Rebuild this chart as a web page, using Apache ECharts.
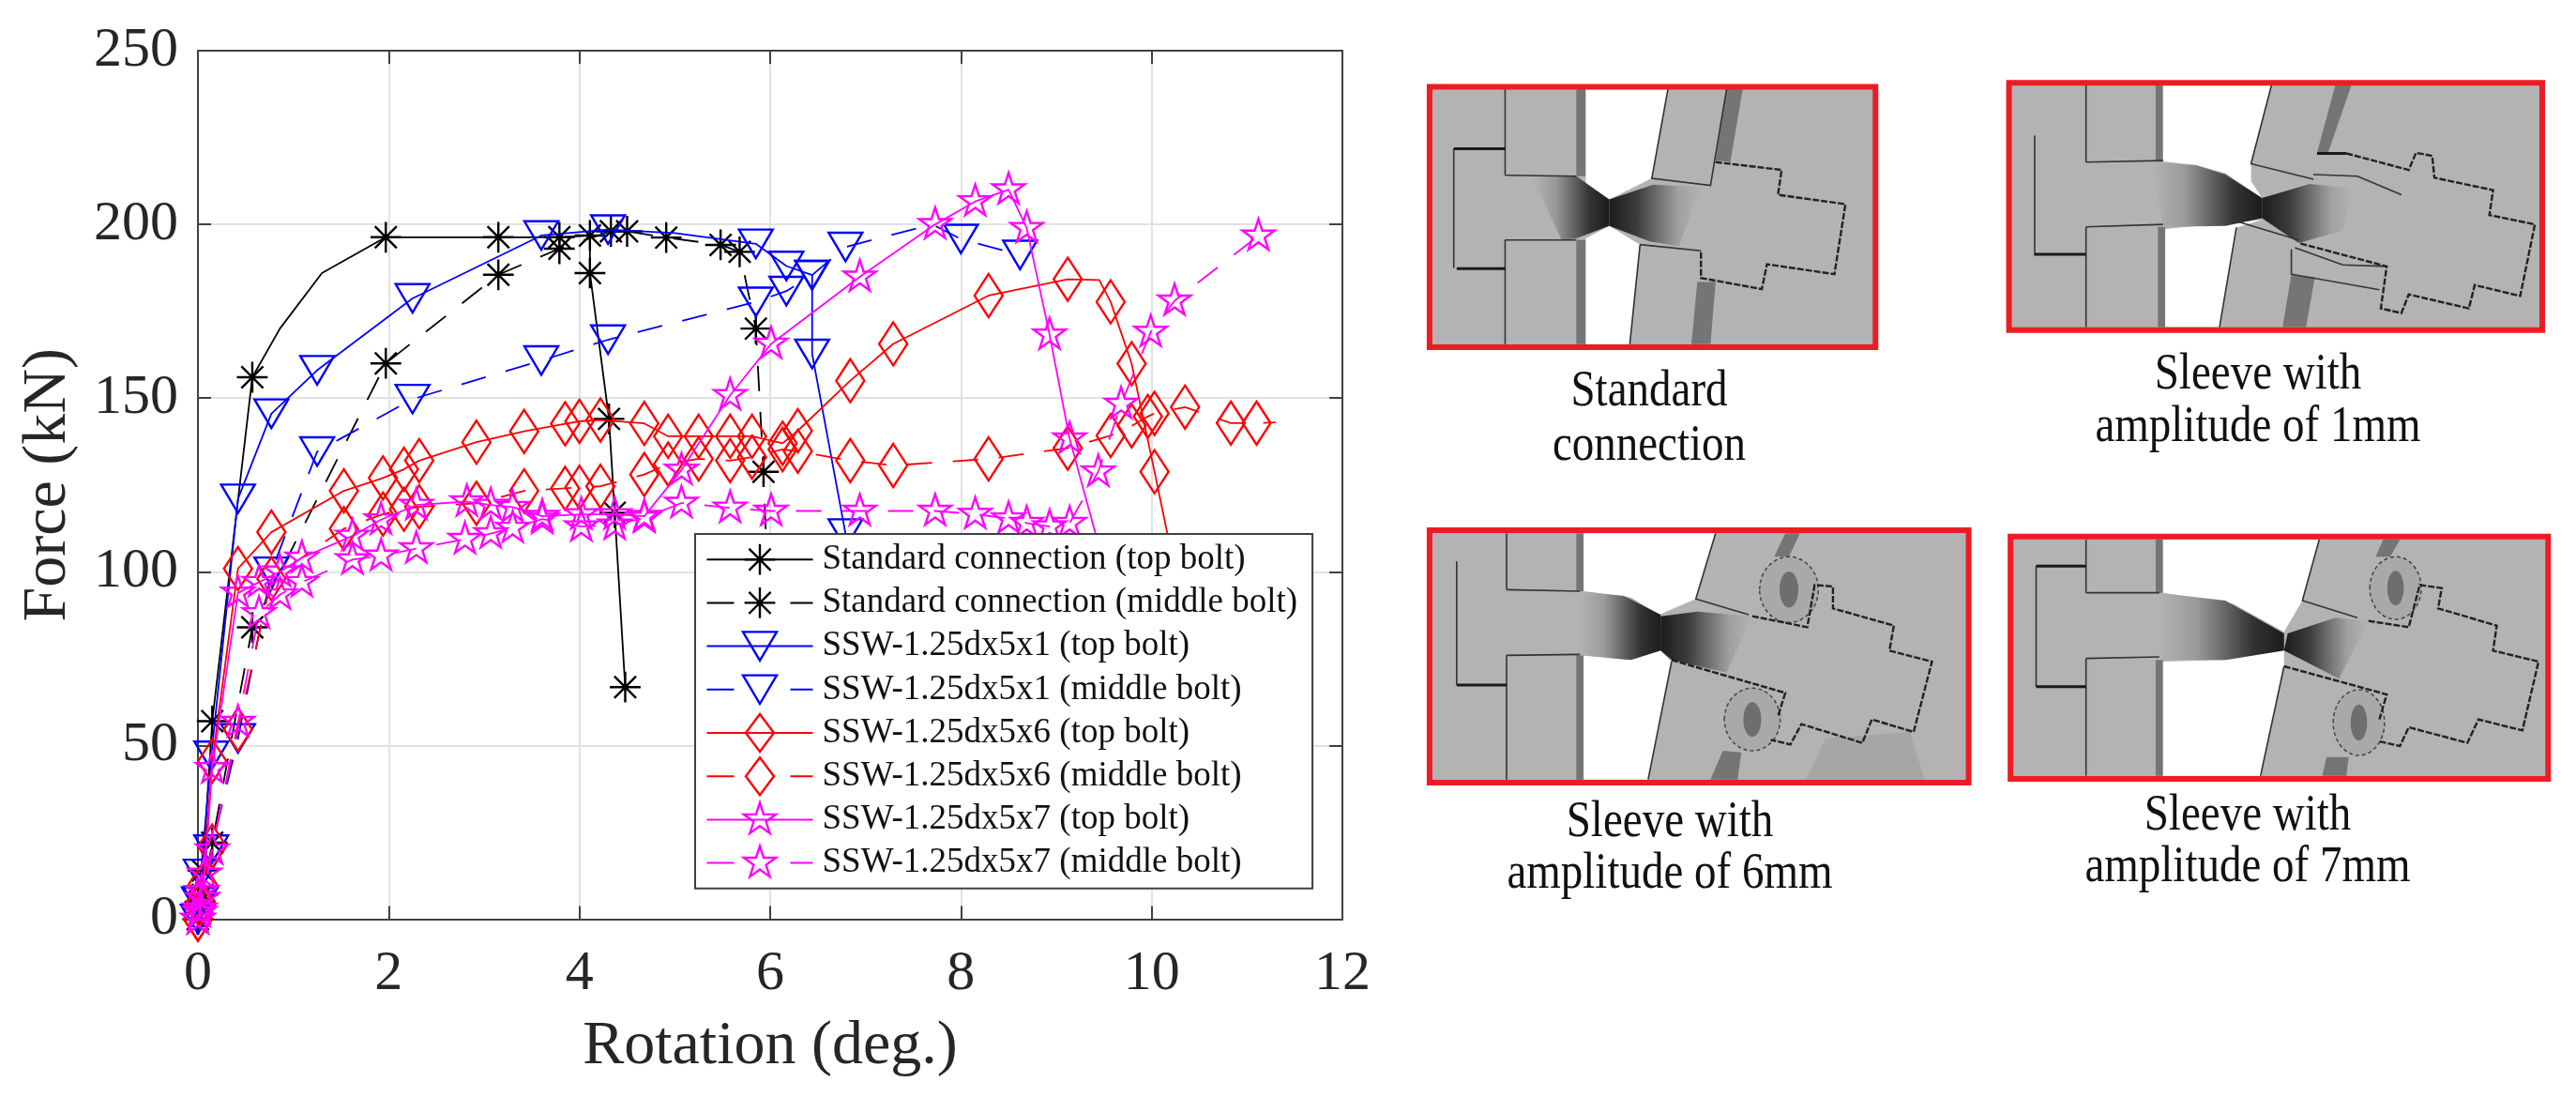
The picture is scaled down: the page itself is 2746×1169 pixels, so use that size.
<!DOCTYPE html>
<html><head><meta charset="utf-8">
<style>html,body{margin:0;padding:0;background:#fff}#c{width:2746px;height:1169px}</style>
<script src="https://cdn.jsdelivr.net/npm/echarts@6/dist/echarts.min.js"></script>
</head><body><div id="c"></div>
<script>
// value readings: [rotation, force] ; a third element 0 = vertex without a marker
const stdTop = [[0,0],[0.02,5],[0.05,14],[0.15,57],[0.57,156],[0.86,170,0],[1.3,186,0],[1.97,196.3],[3.15,196.3],[3.79,196.3],[4.11,196.8],[4.11,186],[4.31,144],[4.37,117],[4.48,66.8]];
const stdMid = [[0,0],[0.02,3],[0.05,7],[0.15,22],[0.57,84],[1.97,160],[3.15,185.5],[3.79,193],[4.33,198],[4.5,198],[4.91,196.2],[5.48,194.1],[5.68,192.1],[5.85,170],[5.93,128.8],[5.97,100,0]];
const ssw1Top = [[0,0],[0.01,5],[0.03,13],[0.14,47],[0.42,121],[0.77,145.5],[1.25,158],[2.25,178.7],[3.6,196.8],[4.3,198.5],[5.0,197.5,0],[5.85,194.4],[6.17,188],[6.44,185.4],[6.44,162.7],[6.79,111]];
const ssw1Mid = [[0,0],[0.03,5],[0.14,20],[0.42,52],[0.77,100],[1.25,134.6],[2.25,149.7],[3.6,160.8],[4.3,166.8],[5.85,177.7],[6.17,180.8],[6.44,185.4],[6.79,193.5],[7.7,200,0],[8,195.8],[8.62,191.2]];
const ssw6Top = [[0,0],[0.02,4],[0.05,10],[0.15,45.5],[0.42,100.9],[0.77,111.4],[1.53,123.3],[1.94,127],[2.16,129.5],[2.32,132],[2.92,137.3],[3.42,140.4],[3.85,142.6],[4,143.3],[4.22,143.7],[4.68,142.7],[4.93,139],[5.25,139],[5.58,139],[5.81,139],[6.13,137],[6.29,140.6],[6.84,155],[7.29,165.6],[8.29,179.5],[9.12,184.2],[9.45,184,0],[9.57,177.7],[9.79,159.9],[10.03,128.8],[10.3,93]];
const ssw6Mid = [[0,0],[0.03,5],[0.15,21],[0.42,54.6],[0.77,98],[1.53,112.4],[1.94,116.6],[2.16,118],[2.32,118.7],[2.92,119.7],[3.42,123.3],[3.85,124],[4,124.3],[4.22,124.6],[4.68,128],[4.93,131],[5.25,132.5],[5.58,132],[5.81,133],[6.13,135.2],[6.29,134.7],[6.84,132],[7.29,130.6],[8.29,132.5],[9.12,135.6],[9.57,139.2],[9.79,142],[9.96,144.7],[10.03,145.6],[10.35,147.4],[10.83,142.8],[11.1,142.8],[11.3,143,0]];
const ssw7Top = [[0,0],[0.02,3],[0.04,8],[0.07,13],[0.15,43.4],[0.42,93.9],[0.64,97],[0.86,100],[1.09,104],[1.62,110.3],[1.92,115],[2.29,119.2],[2.82,120.2],[3.07,119.2],[3.3,118.6],[3.61,116],[4.02,116.5],[4.37,116.5],[4.68,116],[5.07,129.3],[5.58,150.8],[6.01,165.6],[6.94,184.9],[7.73,200],[8.15,206.6],[8.5,210],[8.69,198.9],[8.93,168.2],[9.14,138.3],[9.6,92]];
const ssw7Mid = [[0,0],[0.02,2],[0.05,6],[0.15,20],[0.42,56.7],[0.64,88],[0.86,93.4],[1.09,97],[1.62,103.5],[1.92,104.6],[2.29,106.7],[2.8,109.4],[3.07,111],[3.3,112.6],[3.61,115.2],[4.02,113],[4.37,113.5],[4.68,115.5],[5.07,119.8],[5.58,118.4],[6.01,117.5],[6.94,117.5],[7.73,117.5],[8.15,116.6],[8.5,115.3],[8.69,114],[8.93,113],[9.14,114],[9.44,128.8],[9.68,148.3],[9.99,169],[10.24,178],[11.12,196.7]];
const seriesNames = ['Standard connection (top bolt)','Standard connection (middle bolt)','SSW-1.25dx5x1 (top bolt)','SSW-1.25dx5x1 (middle bolt)','SSW-1.25dx5x6 (top bolt)','SSW-1.25dx5x6 (middle bolt)','SSW-1.25dx5x7 (top bolt)','SSW-1.25dx5x7 (middle bolt)'];
const seriesValues = [stdTop,stdMid,ssw1Top,ssw1Mid,ssw6Top,ssw6Mid,ssw7Top,ssw7Mid];
const yTicks = [0,50,100,150,200,250];
const xTicks = [0,2,4,6,8,10,12];
const xAxisTitle = 'Rotation (deg.)';
const yAxisTitle = 'Force (kN)';
const captions = [['Standard','connection'],['Sleeve with','amplitude of 1mm'],['Sleeve with','amplitude of 6mm'],['Sleeve with','amplitude of 7mm']];

const BOX = 'M0 0L0 0M100 100L100 100';
const ASTER = 'path://'+BOX+'M50 9L50 91M9 50L91 50M21 21L79 79M21 79L79 21';
const TRI = 'path://'+BOX+'M5 12L95 12L50 88Z';
const DIA = 'path://'+BOX+'M50 0L87.5 50L50 100L12.5 50Z';
const STAR = 'path://'+BOX+'M50 5L60.1 36.1L92.8 36.1L66.4 55.3L76.5 86.4L50 67.2L23.5 86.4L33.6 55.3L7.2 36.1L39.9 36.1Z';
const colors = ['#000000','#0000ff','#ff0000','#ff00ff'];
const symbols = [ASTER,TRI,DIA,STAR];
const sizes = [40,40,[40,46],40];
const FONT = '"Liberation Serif"';
const INK = '#262626';

const series = seriesValues.map((vals,i)=>{
  const k = Math.floor(i/2), dashed = i%2===1;
  return {
    name: seriesNames[i], type:'line', data: vals, xAxisIndex:0, yAxisIndex:0,
    symbol: symbols[k], showSymbol:true, showAllSymbol:true, clip:false, silent:true,
    symbolSize: v => v[2]===0 ? 0 : sizes[k],
    lineStyle:{color:colors[k], width:1.8, type: dashed?[27,22]:'solid'},
    itemStyle:{color:'rgba(0,0,0,0)', borderColor:colors[k], borderWidth:2.4},
    emphasis:{disabled:true}, z:2+i
  };
});

const legendData = seriesNames.map((n,i)=>({name:n,
  lineStyle:{color:colors[Math.floor(i/2)],width:2,type:i%2?[29,60]:'solid'},
  itemStyle:{color:'rgba(0,0,0,0)',borderColor:colors[Math.floor(i/2)],borderWidth:2.4}}));

// --- schematic panels (illustrations, not data) ---
const G = echarts.graphic;
const fan = (x0,x1,stops)=>new G.LinearGradient(0,0,1,0,stops);
function panel(tf, p){
  const out=[];
  const pts=a=>a.map(tf);
  const poly=(a,fill,z)=>out.push({type:'polygon',shape:{points:pts(a)},style:{fill},z:z||10,silent:true});
  const line=(a,stroke,w,dash)=>out.push({type:'polyline',shape:{points:pts(a)},style:{stroke,lineWidth:w||1.5,fill:'none',lineDash:dash||null},z:14,silent:true});
  const [l,t,r,b]=p.rect;
  poly([[l,t],[r,t],[r,b],[l,b]],'#b3b3b3');
  (p.wedge||[]).forEach(a=>poly(a,'#a6a6a6',10));
  p.strips.forEach(a=>poly(a,'#757575',11));
  (p.rings||[]).forEach(e=>{
    const c=tf([e[0],e[1]]),e2=tf([e[0]+e[2],e[1]+e[3]]);
    const rx=e2[0]-c[0],ry=e2[1]-c[1];
    out.push({type:'ellipse',shape:{cx:c[0],cy:c[1],rx,ry},style:{fill:'#a9a9a9',stroke:'#444',lineWidth:1.5,lineDash:[4,3]},z:11,silent:true});
    out.push({type:'ellipse',shape:{cx:c[0],cy:c[1],rx:rx*0.32,ry:ry*0.55},style:{fill:'#6e6e6e'},z:11,silent:true});
  });
  p.white.forEach(a=>poly(a,'#ffffff',12));
  poly(p.fanL,fan(0,1,[{offset:0,color:'#b3b3b3'},{offset:0.3,color:'#9a9a9a'},{offset:0.75,color:'#333'},{offset:1,color:'#1c1c1c'}]),13);
  poly(p.fanR,fan(0,1,[{offset:0,color:'#1c1c1c'},{offset:0.3,color:'#3c3c3c'},{offset:0.75,color:'#a0a0a0'},{offset:1,color:'#b3b3b3'}]),13);
  p.thin.forEach(a=>line(a,'#333',1.6));
  p.bold.forEach(a=>line(a,'#1a1a1a',3));
  p.beam.forEach(a=>line(a,'#222',2.4,[7,2]));
  // red frame
  const a=tf([l,t]),c=tf([r,b]);
  out.push({type:'rect',shape:{x:a[0],y:a[1],width:c[0]-a[0],height:c[1]-a[1]},style:{fill:'none',stroke:'#ed1c24',lineWidth:p.frame||6},z:16,silent:true});
  return out;
}
const tfTop = q=>[1520+q[0]/1.279, 60+q[1]/3.015];
const tfBot = q=>[1520+q[0]/1.279, 560+q[1]/3.0];

const panel1 = panel(tfTop,{rect:[5,98,613,935],
  strips:[[[205,105],[218,105],[218,385],[205,385]],[[205,590],[218,590],[218,925],[205,925]],[[410,105],[432,105],[415,340],[395,335]],[[370,725],[395,725],[388,925],[362,925]]],
  white:[[[218,105],[330,105],[308,392],[250,460],[218,425]],[[218,925],[278,925],[292,605],[250,545],[218,585]]],
  fanL:[[145,385],[205,385],[250,460],[250,545],[205,585],[185,590]],
  fanR:[[250,460],[310,412],[375,420],[345,610],[305,595],[250,545]],
  thin:[[[108,105],[108,382]],[[108,590],[108,925]],[[108,382],[205,385]],[[108,590],[205,590]],[[38,297],[38,680]],[[330,105],[308,392],[388,415],[410,105]],[[292,605],[375,625]],[[292,605],[278,925]]],
  bold:[[[38,297],[108,297]],[[42,682],[108,682]]],
  beam:[[[395,340],[485,365],[480,445],[572,475],[557,700],[465,668],[458,748],[375,712],[375,625]]]});
const panel2 = panel(tfTop,{rect:[795,85,1522,880],
  strips:[[[995,92],[1005,92],[1005,338],[995,338]],[[998,548],[1008,548],[1008,870],[998,870]],[[1240,92],[1262,92],[1230,310],[1215,310]],[[1180,700],[1212,710],[1200,870],[1168,870]]],
  white:[[[1005,92],[1153,92],[1125,350],[1125,400],[1140,455],[1090,375],[1050,350],[1005,338]],[[1008,870],[1082,870],[1105,550],[1140,525],[1008,555]]],
  fanL:[[990,340],[1050,350],[1090,380],[1140,455],[1140,520],[1090,545],[1005,548]],
  fanR:[[1140,455],[1205,410],[1265,425],[1250,560],[1190,600],[1140,520]],
  thin:[[[900,92],[900,340]],[[900,548],[900,870]],[[830,255],[830,640]],[[900,340],[1005,335]],[[900,548],[1005,540]],[[1153,92],[1125,345],[1210,395]],[[1105,550],[1082,870]],[[1210,380],[1270,385],[1330,445]],[[1105,530],[1190,590]],[[1180,620],[1180,700],[1300,750]],[[1185,615],[1250,670],[1310,675]]],
  bold:[[[830,636],[900,636]],[[1215,312],[1255,312]]],
  beam:[[[1255,312],[1340,365],[1350,310],[1372,320],[1375,390],[1455,430],[1450,510],[1512,540],[1492,770],[1430,735],[1422,810],[1340,765],[1330,825],[1302,810],[1310,675],[1190,600]]]});
const panel3 = panel(tfBot,{rect:[5,15,740,822],
  wedge:[[[545,680],[660,660],[680,812],[518,812]]],
  strips:[[[205,25],[215,25],[215,210],[205,210]],[[205,415],[215,415],[215,812],[205,812]],[[490,25],[510,25],[495,100],[475,100]],[[405,720],[430,725],[425,812],[388,812]]],
  rings:[[495,205,40,105],[445,620,38,100]],
  white:[[[215,25],[395,25],[368,235],[318,285],[280,230],[215,210]],[[215,415],[275,430],[320,400],[335,435],[303,812],[215,812]]],
  fanL:[[210,210],[270,225],[320,285],[320,400],[280,430],[210,415]],
  fanR:[[320,290],[370,275],[445,290],[410,470],[335,430],[320,400]],
  thin:[[[110,25],[110,205]],[[110,415],[110,812]],[[42,115],[42,510]],[[110,205],[210,210]],[[110,415],[210,412]],[[395,25],[368,235],[440,285]],[[335,435],[303,812]]],
  bold:[[[42,510],[110,510]]],
  beam:[[[445,290],[520,325],[530,190],[555,195],[555,265],[638,320],[632,400],[690,435],[665,660],[608,620],[595,695],[512,635],[497,700],[470,685]],[[335,430],[490,535],[480,610]]]});
const panel4 = panel(tfBot,{rect:[797,35,1530,810],
  strips:[[[995,45],[1005,45],[1005,215],[995,215]],[[995,430],[1005,430],[1005,800],[995,800]],[[1305,45],[1328,45],[1315,100],[1295,100]],[[1228,740],[1258,740],[1255,800],[1222,800]]],
  rings:[[1322,200,35,100],[1272,630,35,105]],
  white:[[[1005,45],[1218,45],[1195,240],[1170,340],[1100,250],[1005,215]],[[1005,435],[1090,430],[1170,400],[1170,450],[1138,800],[1005,800]]],
  fanL:[[1000,215],[1090,240],[1170,345],[1170,400],[1090,430],[1000,430]],
  fanR:[[1175,345],[1240,295],[1285,305],[1245,490],[1170,400]],
  thin:[[[900,45],[900,215]],[[900,425],[900,800]],[[832,130],[832,515]],[[900,215],[1000,215]],[[900,425],[1000,420]],[[1218,45],[1195,240],[1270,295]],[[1170,450],[1138,800]]],
  bold:[[[832,130],[900,130]],[[832,515],[900,515]]],
  beam:[[[1285,305],[1340,325],[1355,190],[1385,200],[1380,265],[1460,320],[1455,400],[1517,435],[1495,655],[1435,620],[1420,695],[1340,645],[1328,705],[1300,690]],[[1170,450],[1310,540],[1300,620]]]});

const capPos = [[1758,418,476],[2407,400,456],[1780,877,932],[2396,870,925]];
const capText = [];
captions.forEach((ls,i)=>ls.forEach((s,j)=>capText.push({type:'text',x:capPos[i][0],y:capPos[i][j+1],scaleY:1.15,silent:true,
  style:{text:s,font:'47px '+FONT,fill:'#111',textAlign:'center',textVerticalAlign:'middle'},z:20})));

const frame = {show:true,onZero:false,lineStyle:{color:'#404040',width:2}};
const tick = {show:true,inside:true,length:14,lineStyle:{color:'#404040',width:2}};
const chart = echarts.init(document.getElementById('c'),null,{renderer:'canvas'});
chart.setOption({
  animation:false, backgroundColor:'#ffffff',
  textStyle:{fontFamily:FONT},
  grid:{left:211,top:54,width:1220,height:925.5,show:false,containLabel:false},
  xAxis:[
   {type:'value',min:xTicks[0],max:xTicks[xTicks.length-1],interval:xTicks[1]-xTicks[0],position:'bottom',axisLine:frame,
    name:xAxisTitle,nameLocation:'middle',nameGap:103,nameTextStyle:{fontFamily:FONT,fontSize:66,color:INK},
    axisTick:tick,
    axisLabel:{fontFamily:FONT,fontSize:60,color:INK,margin:29},
    splitLine:{show:true,lineStyle:{color:'#e2e2e2',width:2}}},
   {type:'value',min:xTicks[0],max:xTicks[xTicks.length-1],interval:xTicks[1]-xTicks[0],position:'top',axisLine:frame,
    axisTick:tick,axisLabel:{show:false},splitLine:{show:false}}
  ],
  yAxis:[
   {type:'value',min:yTicks[0],max:yTicks[yTicks.length-1],interval:yTicks[1]-yTicks[0],position:'left',axisLine:frame,
    name:yAxisTitle,nameLocation:'middle',nameGap:126,nameRotate:90,nameTextStyle:{fontFamily:FONT,fontSize:66,color:INK},
    axisTick:tick,
    axisLabel:{fontFamily:FONT,fontSize:60,color:INK,margin:21},
    splitLine:{show:true,lineStyle:{color:'#e2e2e2',width:2}}},
   {type:'value',min:yTicks[0],max:yTicks[yTicks.length-1],interval:yTicks[1]-yTicks[0],position:'right',axisLine:frame,
    axisTick:tick,axisLabel:{show:false},splitLine:{show:false}}
  ],
  legend:{show:true,z:40,left:741,top:569,orient:'vertical',data:legendData,
    itemWidth:113,itemHeight:50,itemGap:3.8,padding:[6,16,6,11.5],
    backgroundColor:'#ffffff',borderColor:'#404040',borderWidth:2,borderRadius:0,selectedMode:false,inactiveColor:'#000',
    textStyle:{fontFamily:FONT,fontSize:37,color:'#111',padding:[0,0,0,5]}},
  series,
  graphic:{elements:[...panel1,...panel2,...panel3,...panel4,...capText]}
});
</script></body></html>
